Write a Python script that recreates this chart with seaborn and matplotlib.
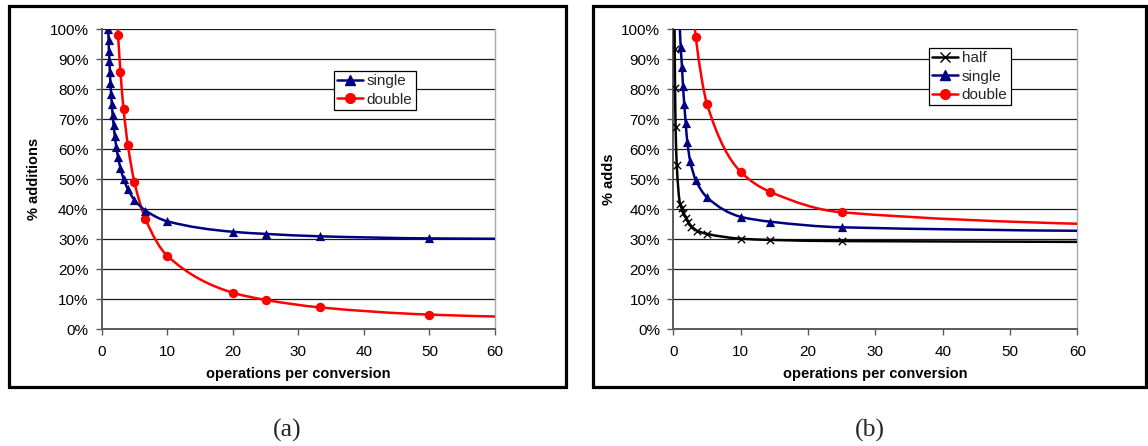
import matplotlib
matplotlib.use("Agg")
import numpy as np
import matplotlib.pyplot as plt
import seaborn as sns
from matplotlib.path import Path
from matplotlib.patches import PathPatch, Rectangle
from matplotlib.lines import Line2D
from matplotlib.ticker import PercentFormatter

# ---- (a) share of additions vs. operations per conversion ----
a_single_x = [1.00, 1.05, 1.11, 1.18, 1.25, 1.33, 1.43, 1.54, 1.67, 1.82, 2.00, 2.22,
              2.50, 2.86, 3.33, 4.00, 5.00, 6.67, 10.0, 20.0, 25.0, 33.3, 50.0, 100.0]
a_single_y = [100.0, 96.4, 92.8, 89.3, 85.7, 82.2, 78.6, 75.1, 71.5, 68.0, 64.4, 60.9,
              57.3, 53.8, 50.2, 46.7, 43.1, 39.6, 36.0, 32.5, 31.8, 31.0, 30.3, 29.8]
a_double_x = [2.22, 2.50, 2.86, 3.33, 4.00, 5.00, 6.67, 10.0, 20.0, 25.0, 33.3, 50.0, 100.0]
a_double_y = [110.3, 98.0, 85.8, 73.5, 61.3, 49.0, 36.8, 24.5, 12.2, 9.8, 7.3, 4.9, 2.6]

# ---- (b) share of adds for half / single / double ----
b_half_x = [0.18, 0.21, 0.26, 0.34, 0.51, 1.00, 1.25, 1.50, 1.85, 2.20, 2.70, 3.50,
            5.00, 10.0, 14.3, 25.0, 100.0]
b_half_y = [102.8, 93.5, 80.3, 67.6, 54.9, 41.8, 40.3, 38.9, 37.2, 35.8, 34.2, 32.9,
            31.8, 30.2, 29.8, 29.4, 29.0]
b_single_x = [0.90, 1.10, 1.29, 1.44, 1.63, 1.84, 2.08, 2.50, 3.33, 5.00, 10.0, 14.3, 25.0, 100.0]
b_single_y = [104.0, 94.0, 87.5, 81.1, 75.0, 68.7, 62.5, 56.2, 49.8, 44.0, 37.5, 35.9, 34.0, 32.1]
b_double_x = [3.00, 3.33, 5.00, 10.0, 14.3, 25.0, 100.0]
b_double_y = [105.0, 97.5, 75.2, 52.5, 45.9, 39.0, 32.9]

x_ticks = [0, 10, 20, 30, 40, 50, 60]
y_ticks = [0, 10, 20, 30, 40, 50, 60, 70, 80, 90, 100]

NAVY, RED, BLACK = "#000080", "#FF0000", "#000000"
LINE_W = 1.8

sns.set_theme(style="white")
plt.rcParams["font.family"] = ["Liberation Sans", "DejaVu Sans"]

W, H = 1148, 446
fig = plt.figure(figsize=(W / 100, H / 100), dpi=100)


def axes_px(left, right, top, bottom):
    return fig.add_axes([left / W, 1 - bottom / H, (right - left) / W, (bottom - top) / H])


def smooth_path(x, y):
    """Smooth cubic Bezier path through the points, with shape-preserving slopes."""
    x = np.asarray(x, float)
    y = np.asarray(y, float)
    h = np.diff(x)
    d = np.diff(y) / h
    n = len(x)
    m = np.zeros(n)
    for k in range(1, n - 1):
        if d[k - 1] * d[k] <= 0:
            m[k] = 0.0
        else:
            w1 = 2 * h[k] + h[k - 1]
            w2 = h[k] + 2 * h[k - 1]
            m[k] = (w1 + w2) / (w1 / d[k - 1] + w2 / d[k])
    m[0] = d[0]
    m[-1] = d[-1]
    verts, codes = [(x[0], y[0])], [Path.MOVETO]
    for k in range(n - 1):
        verts += [(x[k] + h[k] / 3, y[k] + m[k] * h[k] / 3),
                  (x[k + 1] - h[k] / 3, y[k + 1] - m[k + 1] * h[k] / 3),
                  (x[k + 1], y[k + 1])]
        codes += [Path.CURVE4] * 3
    return Path(verts, codes)


def draw_series(ax, x, y, color, marker, size, lw_marker=0.0):
    ax.add_patch(PathPatch(smooth_path(x, y), facecolor="none", edgecolor=color,
                           lw=LINE_W, zorder=3, capstyle="round", joinstyle="round"))
    if marker == "x":
        sns.scatterplot(x=x, y=y, ax=ax, marker="x", s=size, color=color,
                        linewidth=lw_marker, zorder=4, legend=False)
    else:
        sns.scatterplot(x=x, y=y, ax=ax, marker=marker, s=size, color=color,
                        edgecolor=color, linewidth=0, zorder=4, legend=False)


def style_axes(ax, ylabel, ylabel_x):
    ax.set_xlim(0, 60)
    ax.set_ylim(0, 100)
    ax.set_xticks(x_ticks)
    ax.set_yticks(y_ticks)
    ax.yaxis.set_major_formatter(PercentFormatter(100, decimals=0))
    ax.yaxis.grid(True, color="#1a1a1a", lw=0.9)
    ax.xaxis.grid(False)
    ax.set_axisbelow(True)
    ax.set_facecolor("white")
    for side in ("left", "bottom"):
        ax.spines[side].set_color("#5a5a5a")
        ax.spines[side].set_linewidth(1.4)
    ax.spines["top"].set_visible(False)
    ax.spines["right"].set_color("#a8a8a8")
    ax.spines["right"].set_linewidth(1.0)
    ax.tick_params(axis="both", direction="out", length=4, width=1.0, color="#5a5a5a",
                   labelsize=11, labelcolor="black", left=True, bottom=True)
    ax.tick_params(axis="x", pad=7.5)
    ax.tick_params(axis="y", pad=5.5)
    ax.set_xlabel("operations per conversion", fontsize=10.5, fontweight="bold", color="black")
    ax.set_ylabel(ylabel, fontsize=10.5, fontweight="bold", color="black")
    ax.xaxis.set_label_coords(0.5, -0.149)
    ax.xaxis.label.set_va("center")
    ax.yaxis.set_label_coords(ylabel_x, 0.5)
    ax.yaxis.label.set_va("center")


def legend_box(ax, handles, labels, x_px, y_px):
    leg = ax.legend(handles, labels, loc="upper left",
                    bbox_to_anchor=(x_px / W, 1 - y_px / H), bbox_transform=fig.transFigure,
                    fontsize=11, frameon=True, fancybox=False, framealpha=1,
                    edgecolor="black", borderpad=0.2, labelspacing=0.3,
                    handlelength=1.7, handletextpad=0.25, borderaxespad=0)
    leg.get_frame().set_linewidth(0.9)
    return leg


# ---- panel (a) ----
ax_a = axes_px(101.7, 495.0, 29.3, 329.3)
draw_series(ax_a, a_double_x, a_double_y, RED, "o", 46)
draw_series(ax_a, a_single_x, a_single_y, NAVY, "^", 44)
style_axes(ax_a, "% additions", (34 - 101.7) / 393.3)
legend_box(ax_a,
           [Line2D([], [], color=NAVY, lw=LINE_W, marker="^", ms=7, mec=NAVY),
            Line2D([], [], color=RED, lw=LINE_W, marker="o", ms=7, mec=RED)],
           ["single", "double"], 334, 71)

# ---- panel (b) ----
ax_b = axes_px(673.3, 1077.3, 29.3, 329.3)
draw_series(ax_b, b_double_x, b_double_y, RED, "o", 46)
draw_series(ax_b, b_single_x, b_single_y, NAVY, "^", 44)
draw_series(ax_b, b_half_x, b_half_y, BLACK, "x", 28, lw_marker=1.0)
style_axes(ax_b, "% adds", (609 - 673.3) / 404.0)
legend_box(ax_b,
           [Line2D([], [], color=BLACK, lw=LINE_W, marker="x", ms=7, mew=1.0),
            Line2D([], [], color=NAVY, lw=LINE_W, marker="^", ms=7, mec=NAVY),
            Line2D([], [], color=RED, lw=LINE_W, marker="o", ms=7, mec=RED)],
           ["half", "single", "double"], 929, 48)

# ---- chart frames and captions ----
for x0, x1 in ((9, 566), (593, 1146)):
    fig.add_artist(Rectangle((x0 / W, 1 - 387 / H), (x1 - x0) / W, (387 - 6) / H,
                             transform=fig.transFigure, fill=False, lw=2.3,
                             edgecolor="black", zorder=10))

fig.text(287.5 / W, 1 - 430 / H, "(a)", ha="center", va="center", fontsize=18.5,
         family=["Liberation Serif", "DejaVu Serif"])
fig.text(869.5 / W, 1 - 430 / H, "(b)", ha="center", va="center", fontsize=18.5,
         family=["Liberation Serif", "DejaVu Serif"])

fig.savefig("out.png", dpi=100, facecolor="white")
